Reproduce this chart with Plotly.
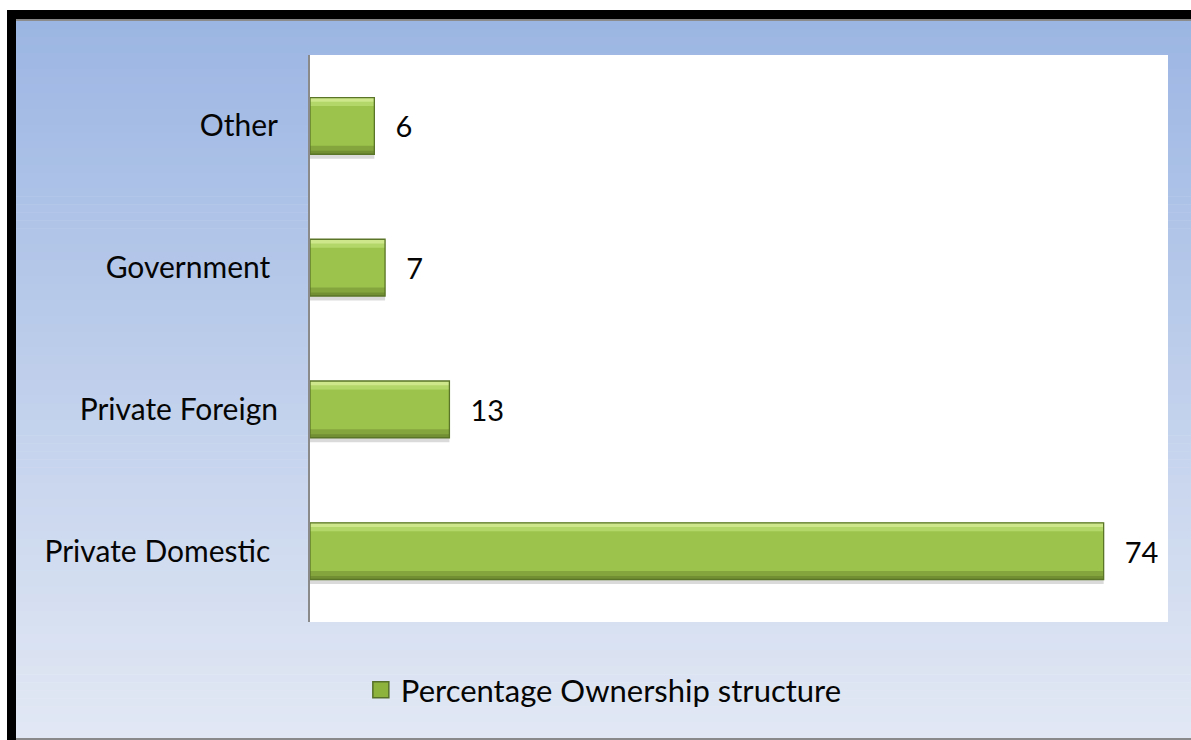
import plotly.graph_objects as go

# Ownership structure (percent)
categories = ["Private Domestic", "Private Foreign", "Government", "Other"]
tick_labels = ["Private Domestic\u00a0", "Private Foreign", "Government\u00a0", "Other"]
values = [74, 13, 7, 6]
series_name = "Percentage Ownership structure"

W, H = 1191, 740
FONT = "Lato"
INK = "#050505"

fig = go.Figure()

bar_common = dict(y=categories, x=values, orientation="h",
                  showlegend=False, hoverinfo="skip")

# soft drop shadow under each bar
fig.add_trace(go.Bar(**bar_common, width=0.4, offset=-0.232,
                     marker=dict(color="rgba(70,70,70,0.20)", line=dict(width=0))))
# bar face
fig.add_trace(go.Bar(**bar_common, width=0.4, offset=-0.2,
                     marker=dict(color="#9cc44c", line=dict(width=0))))
# upper bevel highlight (two tones)
fig.add_trace(go.Bar(**bar_common, width=0.06, offset=0.14,
                     marker=dict(color="#b4d76a", line=dict(width=0))))
fig.add_trace(go.Bar(**bar_common, width=0.03, offset=0.17,
                     marker=dict(color="#cde78a", line=dict(width=0))))
# lower bevel shade
fig.add_trace(go.Bar(**bar_common, width=0.06, offset=-0.2,
                     marker=dict(color="#84a43e", line=dict(width=0))))
fig.add_trace(go.Bar(**bar_common, width=0.025, offset=-0.2,
                     marker=dict(color="#728f33", line=dict(width=0))))
# outline + value labels
fig.add_trace(go.Bar(
    y=categories, x=values, orientation="h", width=0.4, offset=-0.2,
    marker=dict(color="rgba(0,0,0,0)", line=dict(color="#5a7527", width=1.3)),
    text=values, texttemplate="\u2002\u2009%{x}", textposition="outside",
    textfont=dict(family=FONT, size=29, color=INK),
    cliponaxis=False, showlegend=False, hoverinfo="skip"))
# legend swatch
fig.add_trace(go.Scatter(
    x=[None], y=[None], mode="markers", name=series_name,
    marker=dict(symbol="square", size=18, color="#8db33d",
                line=dict(color="#56702a", width=1.5)),
    showlegend=True))

shapes = []
# vertical blue gradient background
top_c = (156, 182, 227)
bot_c = (226, 232, 244)
y_top, y_bot = 21, 738
n = 90
for i in range(n):
    t = i / (n - 1)
    c = tuple(round(top_c[k] + (bot_c[k] - top_c[k]) * t) for k in range(3))
    ya = y_top + (y_bot - y_top) * i / n
    yb = y_top + (y_bot - y_top) * (i + 1) / n + 0.6
    shapes.append(dict(type="rect", xref="paper", yref="paper",
                       x0=16 / W, x1=1.0, y0=1 - yb / H, y1=1 - ya / H,
                       fillcolor="rgb(%d,%d,%d)" % c, line=dict(width=0),
                       layer="below"))
# white plotting area
shapes.append(dict(type="rect", xref="paper", yref="paper",
                   x0=310 / W, x1=1168 / W, y0=1 - 622 / H, y1=1 - 55 / H,
                   fillcolor="white", line=dict(width=0), layer="below"))
# frame: black top and left edges, grey rules
shapes.append(dict(type="rect", xref="paper", yref="paper",
                   x0=7 / W, x1=1.0, y0=1 - 19.5 / H, y1=1 - 10 / H,
                   fillcolor="black", line=dict(width=0), layer="above"))
shapes.append(dict(type="rect", xref="paper", yref="paper",
                   x0=16 / W, x1=1.0, y0=1 - 21 / H, y1=1 - 19.5 / H,
                   fillcolor="#8c8c8c", line=dict(width=0), layer="above"))
shapes.append(dict(type="rect", xref="paper", yref="paper",
                   x0=7 / W, x1=16 / W, y0=0, y1=1 - 10 / H,
                   fillcolor="black", line=dict(width=0), layer="above"))
shapes.append(dict(type="rect", xref="paper", yref="paper",
                   x0=16 / W, x1=1.0, y0=0, y1=2 / H,
                   fillcolor="#8a8a8a", line=dict(width=0), layer="above"))

fig.update_layout(
    width=W, height=H,
    margin=dict(l=0, r=0, t=0, b=0),
    paper_bgcolor="white",
    plot_bgcolor="rgba(0,0,0,0)",
    barmode="overlay",
    font=dict(family=FONT, size=30, color=INK),
    shapes=shapes,
    xaxis=dict(domain=[310 / W, 1168 / W], range=[0, 80],
               showgrid=False, zeroline=False, showticklabels=False,
               ticks="", showline=False, fixedrange=True),
    yaxis=dict(domain=[1 - 622 / H, 1 - 55 / H],
               categoryorder="array", categoryarray=categories,
               tickmode="array", tickvals=categories, ticktext=tick_labels,
               tickfont=dict(family=FONT, size=30, color=INK),
               ticks="", ticklabelstandoff=24,
               showline=True, linecolor="#8a8a8a", linewidth=2,
               showgrid=False, zeroline=False, fixedrange=True),
    legend=dict(orientation="h", x=0.507, xanchor="center",
                y=1 - 690 / H, yanchor="middle",
                font=dict(family=FONT, size=31, color=INK),
                bgcolor="rgba(0,0,0,0)"),
    showlegend=True,
)

fig.write_html("out.html")
